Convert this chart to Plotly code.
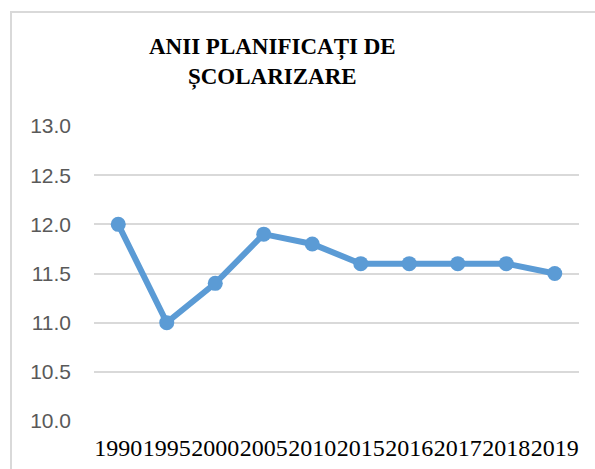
import plotly.graph_objects as go

years = ["1990", "1995", "2000", "2005", "2010", "2015", "2016", "2017", "2018", "2019"]
values = [12.0, 11.0, 11.4, 11.9, 11.8, 11.6, 11.6, 11.6, 11.6, 11.5]
title_lines = ["ANII PLANIFICAȚI DE", "ȘCOLARIZARE"]

W, H = 595, 469
L, R, T, B = 94, 16, 126, 48
pw, ph = W - L - R, H - T - B

SERIF = "'Times New Roman', 'Liberation Serif', Tinos, serif"
SANS = "Arial, 'Liberation Sans', sans-serif"

fig = go.Figure()
fig.add_trace(go.Scatter(
    x=years, y=values, mode="lines+markers",
    line=dict(color="#5B9BD5", width=6),
    marker=dict(color="#5B9BD5", size=15),
    hoverinfo="x+y",
))

def px_x(p):
    return (p - L) / pw

def px_y(p):
    return (H - B - p) / ph

fig.update_layout(
    width=W, height=H,
    autosize=False,
    margin=dict(l=L, r=R, t=T, b=B, autoexpand=False),
    paper_bgcolor="white", plot_bgcolor="white",
    showlegend=False,
    xaxis=dict(
        type="category", range=[-0.5, len(years) - 0.5], tickangle=0,
        showgrid=False, zeroline=False, showline=False, ticks="",
        tickfont=dict(family=SERIF, size=24, color="#000000"),
        ticklabelstandoff=10, automargin=False,
    ),
    yaxis=dict(
        range=[10, 13], dtick=0.5, tick0=10, tickformat=".1f",
        showgrid=True, gridcolor="#D9D9D9", gridwidth=1.5,
        zeroline=False, showline=False, ticks="",
        tickfont=dict(family=SANS, size=21, color="#595959"),
        ticklabelstandoff=22, automargin=False,
    ),
    annotations=[dict(
        text="<b>" + "<br>".join(title_lines) + "</b>",
        xref="paper", yref="paper", x=px_x(272), y=px_y(32),
        xanchor="center", yanchor="top", showarrow=False, align="center",
        font=dict(family=SERIF, size=23, color="#000000"),
    )],
    shapes=[dict(
        type="rect", xref="paper", yref="paper",
        x0=px_x(11), x1=px_x(610), y0=px_y(12), y1=px_y(490),
        line=dict(color="#D9D9D9", width=2), layer="below",
    )],
)

fig.write_html(
    "out.html",
    config={"displayModeBar": False},
    post_script="document.body.style.margin='0';document.body.style.overflow='hidden';",
)
